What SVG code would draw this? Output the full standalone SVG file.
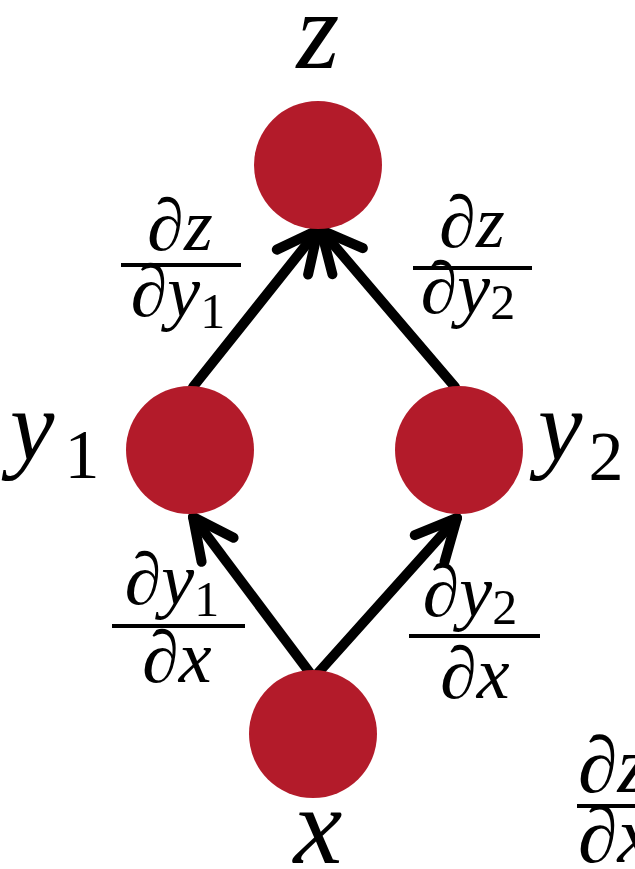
<svg xmlns="http://www.w3.org/2000/svg" width="635" height="869" viewBox="0 0 635 869">
<style>
.node{fill:#B31B2A}
.bar{stroke:#000;stroke-width:4}
.edge{stroke:#000;stroke-width:10;stroke-linecap:round;fill:none;marker-end:url(#ah)}
.sub{font-style:normal}
</style>
<defs>
<marker id="ah" markerUnits="userSpaceOnUse" markerWidth="80" markerHeight="80" viewBox="-50 -40 80 80" refX="0" refY="0" orient="auto" overflow="visible">
<path d="M-41,-20 L0,0 L-41,20" fill="none" stroke="#000" stroke-width="10" stroke-linecap="round" stroke-linejoin="round"/>
</marker>
</defs>
<g id="connectors">
<line class="edge" x1="310" y1="673" x2="193" y2="517"/>
<line class="edge" x1="318" y1="673" x2="457" y2="518"/>
<line class="edge" x1="193" y1="387" x2="318" y2="230"/>
<line class="edge" x1="455" y1="387" x2="321" y2="230"/>
</g>
<g font-family="Liberation Serif, serif" font-style="italic" fill="#000">
<g id="node-z"><circle class="node" cx="318" cy="165" r="64"/><text font-size="110" x="318" y="68" text-anchor="middle">z</text></g>
<g id="node-y1"><circle class="node" cx="190" cy="450" r="64"/><text font-size="100" x="10" y="460">y<tspan class="sub" font-size="70" dx="10" dy="18">1</tspan></text></g>
<g id="node-y2"><circle class="node" cx="459" cy="450" r="64"/><text font-size="100" x="538" y="460">y<tspan class="sub" font-size="70" dx="6" dy="20">2</tspan></text></g>
<g id="node-x"><circle class="node" cx="313" cy="734" r="64"/><text font-size="110" x="318" y="863" text-anchor="middle">x</text></g>
<g id="label-dz-dy1" font-size="74">
<text x="180" y="250" text-anchor="middle">∂z</text>
<line class="bar" x1="121" y1="265" x2="241" y2="265"/>
<text x="178" y="316" text-anchor="middle">∂y<tspan class="sub" font-size="50" dy="12">1</tspan></text>
</g>
<g id="label-dz-dy2" font-size="74">
<text x="472" y="247" text-anchor="middle">∂z</text>
<line class="bar" x1="413" y1="268" x2="532" y2="268"/>
<text x="468" y="313" text-anchor="middle">∂y<tspan class="sub" font-size="50" dy="6">2</tspan></text>
</g>
<g id="label-dy1-dx" font-size="74">
<text x="172" y="604" text-anchor="middle">∂y<tspan class="sub" font-size="50" dy="12">1</tspan></text>
<line class="bar" x1="112" y1="626" x2="245" y2="626"/>
<text x="177" y="682" text-anchor="middle">∂x</text>
</g>
<g id="label-dy2-dx" font-size="74">
<text x="470" y="616" text-anchor="middle">∂y<tspan class="sub" font-size="50" dy="8">2</tspan></text>
<line class="bar" x1="409" y1="636" x2="540" y2="636"/>
<text x="475" y="698" text-anchor="middle">∂x</text>
</g>
<g id="label-partial" font-size="80">
<text x="578" y="792">∂z</text>
<line class="bar" x1="577" y1="806" x2="650" y2="806"/>
<text x="578" y="862">∂x</text>
</g>
</g>
</svg>
